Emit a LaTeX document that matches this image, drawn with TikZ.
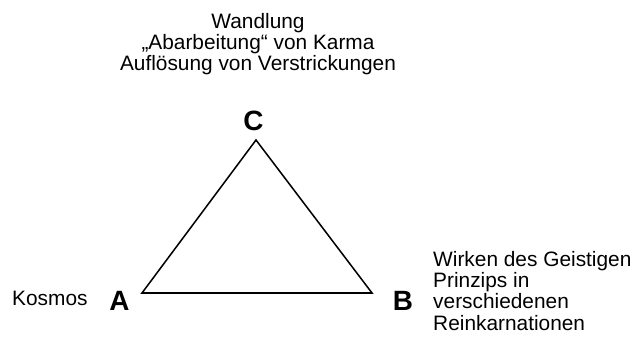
\documentclass[tikz,border=0pt]{standalone}
\usepackage{fontspec}
\setmainfont{Liberation Sans}
\usetikzlibrary{positioning}
\tikzset{
  ecke/.style={font=\fontsize{23.8}{24}\selectfont\bfseries, inner sep=0pt},
  notiz/.style={font=\fontsize{17.8}{18}\selectfont, inner sep=0pt}
}
\begin{document}
\begin{tikzpicture}[x=0.03cm,y=-0.03cm]
    \useasboundingbox (0,0) rectangle (637,340);
    \coordinate (A) at (142,293);
    \coordinate (B) at (372,293);
    \coordinate (C) at (256,140);
    \draw[line width=1.3pt] (A)--(B)--(C)--cycle;
    \node[ecke] (labA) at (119.5,301) {A};
    \node[ecke] (labB) at (403,300.5) {B};
    \node[ecke] (labC) at (253.5,121) {C};
    \node[notiz, anchor=base west] (kosmos) at (12,305) {Kosmos};
    % base = Grundlinie der letzten Zeile
    \node[notiz, align=center, anchor=base] (wandlung) at (258,70.5)
        {Wandlung\\„Abarbeitung“ von Karma\\Auflösung von Verstrickungen};
    \node[notiz, align=left, anchor=base west] (wirken) at (433,330)
        {Wirken des Geistigen\\Prinzips in\\verschiedenen\\Reinkarnationen};
\end{tikzpicture}
\end{document}
